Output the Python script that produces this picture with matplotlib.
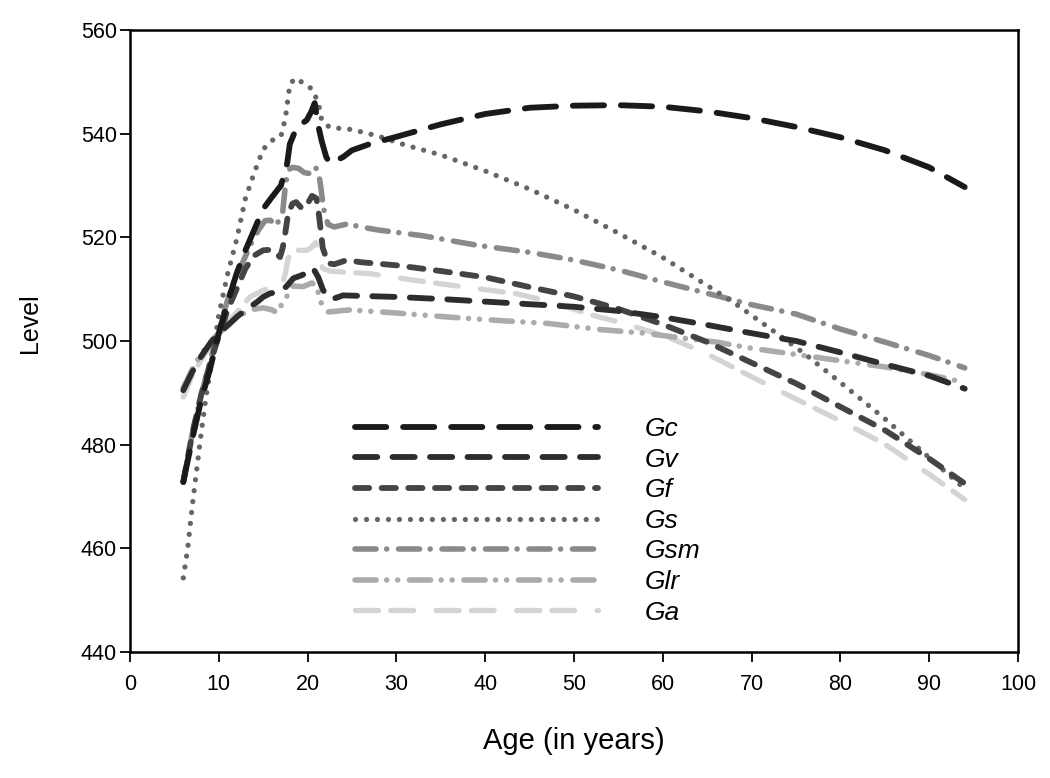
import matplotlib
matplotlib.use("Agg")
import matplotlib.pyplot as plt

plt.rcParams['font.family'] = ['Liberation Sans', 'DejaVu Sans']
plt.rcParams['lines.scale_dashes'] = False

# ---------------- data ----------------
gc_age = [6, 7, 8, 9, 10, 11, 12, 13, 14, 15, 16, 17, 17.7, 18, 18.8, 19.9, 20.4, 20.8, 21.2, 21.6,
          22.1, 22.5, 23.2, 24, 25, 27, 30, 35, 40, 45, 50, 55, 60, 65, 70, 75, 80, 85, 90, 94]
gc_val = [472.8, 481, 488.5, 494.5, 501.5, 507.5, 513, 517.5, 521.5, 525.5, 527.8, 530, 534.3, 538, 541.3,
          542.6, 544.2, 545.9, 541.5, 538.5, 535.5, 534.3, 534.8, 535.5, 536.8, 538, 539.4, 541.8, 543.8,
          545, 545.4, 545.5, 545.2, 544.3, 543, 541.3, 539.3, 536.8, 533.5, 529.7]

gv_age = [6, 7, 8, 9, 10, 11, 12, 13, 14.3, 15, 15.8, 16.9, 17.6, 18.4, 19.2, 19.9, 20.6, 21.2, 21.7,
          22.2, 23, 24, 26, 30, 35, 40, 45, 50, 55, 60, 65, 70, 75, 80, 85, 90, 94]
gv_val = [490.5, 494, 497, 499.5, 501.5, 503, 504.6, 506, 507.5, 508.5, 509.2, 509.5, 510.5, 512.1, 512.6,
          513.1, 514.1, 512.3, 510, 508.5, 508.2, 508.8, 508.7, 508.5, 508.1, 507.6, 507.1, 506.6, 505.8,
          504.6, 503.1, 501.5, 500, 497.8, 495.5, 493.3, 490.8]

gf_age = [6, 7, 8, 9, 10, 11, 12, 13, 14, 15, 15.8, 16.5, 16.9, 17.2, 17.5, 17.8, 18.3, 18.7, 19.4, 20,
          20.5, 21, 21.3, 21.7, 22.3, 23, 24.4, 26, 30, 35, 40, 45, 50, 55, 60, 65, 70, 75, 80, 85, 90, 94]
gf_val = [472.8, 482, 489.5, 495.5, 501, 506, 510, 514, 516.5, 517.5, 517.6, 516.8, 516.2, 518, 521, 524.5,
          526.5, 526.8, 525.5, 526.5, 528, 527.5, 524, 518, 515, 514.8, 515.6, 515.2, 514.6, 513.5, 512.3,
          510.4, 508.6, 506.2, 503.2, 499.8, 495.8, 491.8, 487.3, 482.8, 477.3, 472.5]

gs_age = [6, 6.5, 7, 7.5, 8, 8.5, 9, 9.5, 10, 11, 12, 13, 14, 15, 16, 17, 17.5, 18, 18.6, 19.5, 20.5,
          21.2, 21.6, 22.5, 25, 28, 31, 35, 40, 45, 50, 55, 60, 65, 68, 72, 76, 80, 85, 89, 94]
gs_val = [454.3, 460, 468, 475, 482, 488.5, 494, 499.5, 505, 513, 519.5, 527.5, 532.5, 537, 538.7, 539.5,
          543, 549.5, 550.7, 549.8, 548.6, 546, 542.5, 541.2, 540.8, 539.5, 537.8, 535.9, 532.8, 529.3,
          525.3, 520.8, 516.1, 510.7, 507.4, 502.5, 497.5, 492, 485, 479, 471.5]

gsm_age = [6, 7, 8, 9, 10, 10.5, 11, 11.8, 12.7, 13.7, 14.5, 15.2, 15.8, 16.5, 17.2, 17.5, 17.8, 18.3,
           19, 19.6, 20.2, 20.8, 21.2, 21.5, 21.8, 22.3, 23, 24.5, 26, 28, 33, 39, 45, 50, 55, 60, 65,
           70, 75, 80, 85, 90, 94]
gsm_val = [472.8, 482, 489.5, 496, 502, 505, 508, 512, 515.2, 519, 521.5, 523.2, 523.3, 522.3, 525, 530,
           533, 533.5, 533.3, 532.5, 532.3, 533.5, 533, 529.5, 525.5, 522.5, 522, 522.6, 522, 521.4, 520.3,
           518.5, 517.1, 515.6, 513.7, 511.4, 509.2, 507, 505.2, 502.3, 499.8, 497.2, 494.8]

glr_age = [6, 7, 8, 9, 10, 11, 12, 13.5, 15, 16, 16.5, 17, 17.8, 18.3, 19.5, 20.5, 21, 21.6, 22.3, 24.8,
           30, 36, 42, 47, 53, 58, 62, 66, 70, 75, 80, 85, 90, 94]
glr_val = [491, 494.5, 497.5, 499.8, 501.5, 503, 504.5, 506, 506.4, 506, 505.5, 506.8, 509, 510.6, 510.5,
           511.2, 510.5, 507, 505.6, 506, 505.4, 504.6, 503.9, 503.4, 502.2, 501.5, 500.6, 499.8, 498.6,
           497.4, 496.2, 495, 493.5, 492]

ga_age = [6, 7, 8, 9, 10, 11, 12, 13.5, 15, 16, 17.1, 17.5, 17.8, 18.8, 19.9, 20.4, 20.9, 21.3, 21.7,
          22.5, 24, 27, 30, 36, 43.6, 47.3, 52, 56, 60.5, 65, 70, 75, 80, 85, 90, 94]
ga_val = [489.2, 493.3, 496.3, 499, 501.5, 503.6, 505.5, 508.5, 509.8, 510.3, 510.8, 513, 516, 517.5,
          517.5, 518, 519, 517, 514, 513.5, 513.3, 513, 512.2, 510.8, 509.1, 507.6, 505, 503.2, 500.8,
          497.5, 493.1, 488.8, 484.6, 480.1, 474.3, 469.4]

labels = ['Gc', 'Gv', 'Gf', 'Gs', 'Gsm', 'Glr', 'Ga']
x_ticks = [0, 10, 20, 30, 40, 50, 60, 70, 80, 90, 100]
y_ticks = [440, 460, 480, 500, 520, 540, 560]

# ---------------- styles ----------------
styles = [
    dict(color='#1a1a1a', lw=4.2, dashes=(22.5, 12.1)),
    dict(color='#2d2d2d', lw=4.2, dashes=(16.0, 11.0)),
    dict(color='#444444', lw=4.2, dashes=(10.2, 9.0)),
    dict(color='#666666', lw=3.8, dashes=(0.01, 7.9)),
    dict(color='#8a8a8a', lw=4.0, dashes=(15.2, 7.6, 0.01, 8.5)),
    dict(color='#ababab', lw=4.0, dashes=(15.2, 7.6, 0.01, 7.9, 0.01, 8.5)),
    dict(color='#d4d4d4', lw=3.8, dashes=(16.6, 8.8, 16.4, 16.2)),
]

series = [(gc_age, gc_val), (gv_age, gv_val), (gf_age, gf_val), (gs_age, gs_val),
          (gsm_age, gsm_val), (glr_age, glr_val), (ga_age, ga_val)]

fig = plt.figure(figsize=(10.5, 7.78), dpi=100)
ax = fig.add_axes([130/1050, 126/778, 888/1050, 622/778])

hmap = {}
for i in list(range(len(series)))[::-1]:
    a, v = series[i]
    st = styles[i]
    ln, = ax.plot(a, v, color=st['color'], lw=st['lw'], solid_capstyle='round',
                  dash_capstyle='round', dash_joinstyle='round', solid_joinstyle='round')
    ln.set_dashes(st['dashes'])
    hmap[i] = ln
handles = [hmap[i] for i in range(len(series))]

ax.set_xlim(0, 100)
ax.set_ylim(440, 560)
ax.set_xticks(x_ticks)
ax.set_yticks(y_ticks)
ax.tick_params(direction='out', length=7, width=1.3, labelsize=15.5)
ax.tick_params(axis='x', pad=9)
ax.tick_params(axis='y', pad=2.5)
for s in ax.spines.values():
    s.set_linewidth(1.8)

ax.set_xlabel('Age (in years)', fontsize=21)
ax.set_ylabel('Level', fontsize=18)
ax.xaxis.set_label_coords(0.5, (652 - 727) / 622)
ax.yaxis.set_label_coords((42 - 130) / 888, (652 - 323) / 622)

leg = ax.legend(handles, labels, loc='upper left', bbox_to_anchor=((355 - 130) / 888, (652 - 417) / 622),
                frameon=False, handlelength=9.2, handletextpad=1.78, labelspacing=0.25,
                borderpad=0, borderaxespad=0,
                prop={'style': 'italic', 'size': 19})

fig.savefig('out.png', dpi=100)
